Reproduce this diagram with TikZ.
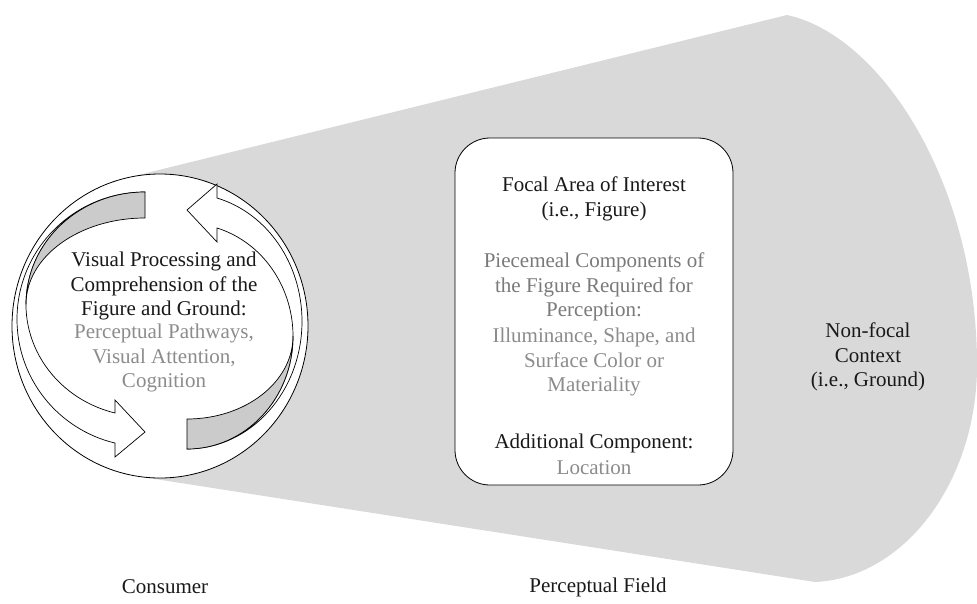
\documentclass[tikz,border=0pt]{standalone}
\usepackage{fontspec}
\setmainfont{Liberation Serif}
\usepackage{tikz}
\usetikzlibrary{shapes.geometric}
\definecolor{fieldgray}{HTML}{D9D9D9}
\definecolor{bandgray}{HTML}{CBCBCB}
\definecolor{midgray}{HTML}{7A7A7A}
\definecolor{softgray}{HTML}{8C8C8C}

\begin{document}
\begin{tikzpicture}
[x=1pt, y=1pt,
 txt/.style={align=center, inner sep=0pt, text=black!90, font=\fontsize{21}{24.5}\selectfont},
 ring/.style={ellipse, draw=black, fill=white, line width=0.8pt, inner sep=0pt, minimum width=296pt, minimum height=304pt},
 focalbox/.style={draw=black, fill=white, line width=0.8pt, rounded corners=35pt, minimum width=278pt, minimum height=347pt},
 front/.style={draw=black, fill=white, line width=0.7pt, line join=miter},
 back/.style={draw=black, fill=bandgray, line width=0.7pt}]
\useasboundingbox (0,0) rectangle (977,-603);
% perceptual field
\fill[fieldgray] (125.5,-178.2) -- (787,-15) .. controls (880,-35) and (975,-180) .. (977,-360)
  .. controls (979,-480) and (905,-578) .. (815,-582) -- (137.8,-476.3) -- cycle;
\node[ring] (ring) at (160,-326) {};
% left arrow
\draw[front] (145,-192) arc[start angle=90, end angle=256.4, x radius=128, y radius=127.3]
  -- (115,-457) -- (145,-432) -- (115,-400) -- (115,-413)
  arc[start angle=255.4, end angle=90, x radius=119, y radius=112.3] -- cycle;
\draw[back] (145,-192) arc[start angle=90, end angle=180, x radius=119, y radius=112.3]
  arc[start angle=180, end angle=90, x radius=119, y radius=86.3] -- cycle;
% right arrow
\draw[front] (187,-449) arc[start angle=270, end angle=434.9, x radius=115, y radius=127.7]
  -- (217,-184) -- (187,-210) -- (217,-242) -- (217,-228)
  arc[start angle=433.56, end angle=270, x radius=106, y radius=112.8] -- cycle;
\draw[back] (187,-449) arc[start angle=270, end angle=360, x radius=106, y radius=112.8]
  arc[start angle=0, end angle=-90, x radius=106, y radius=82.8] -- cycle;
\node[focalbox] (box) at (594,-311.5) {};
\node[txt] (process) at (164,-286) {Visual Processing and\\Comprehension of the\\Figure and Ground:};
\node[txt, text=softgray] (pathways) at (164,-358) {Perceptual Pathways,\\Visual Attention,\\Cognition};
\node[txt] (focal) at (594,-199) {Focal Area of Interest\\(i.e., Figure)};
\node[txt, text=midgray] (piecemeal) at (594,-287) {Piecemeal Components of\\the Figure Required for\\Perception:};
\node[txt, text=softgray] (illum) at (594,-362) {Illuminance, Shape, and\\Surface Color or\\Materiality};
\node[txt] (additional) at (594,-443) {Additional Component:};
\node[txt, text=softgray] (location) at (594,-468) {Location};
\node[txt] (ground) at (868,-357) {Non-focal\\Context\\(i.e., Ground)};
\node[txt] (consumer) at (165,-587) {Consumer};
\node[txt] (field) at (598,-587) {Perceptual Field};
\end{tikzpicture}
\end{document}
